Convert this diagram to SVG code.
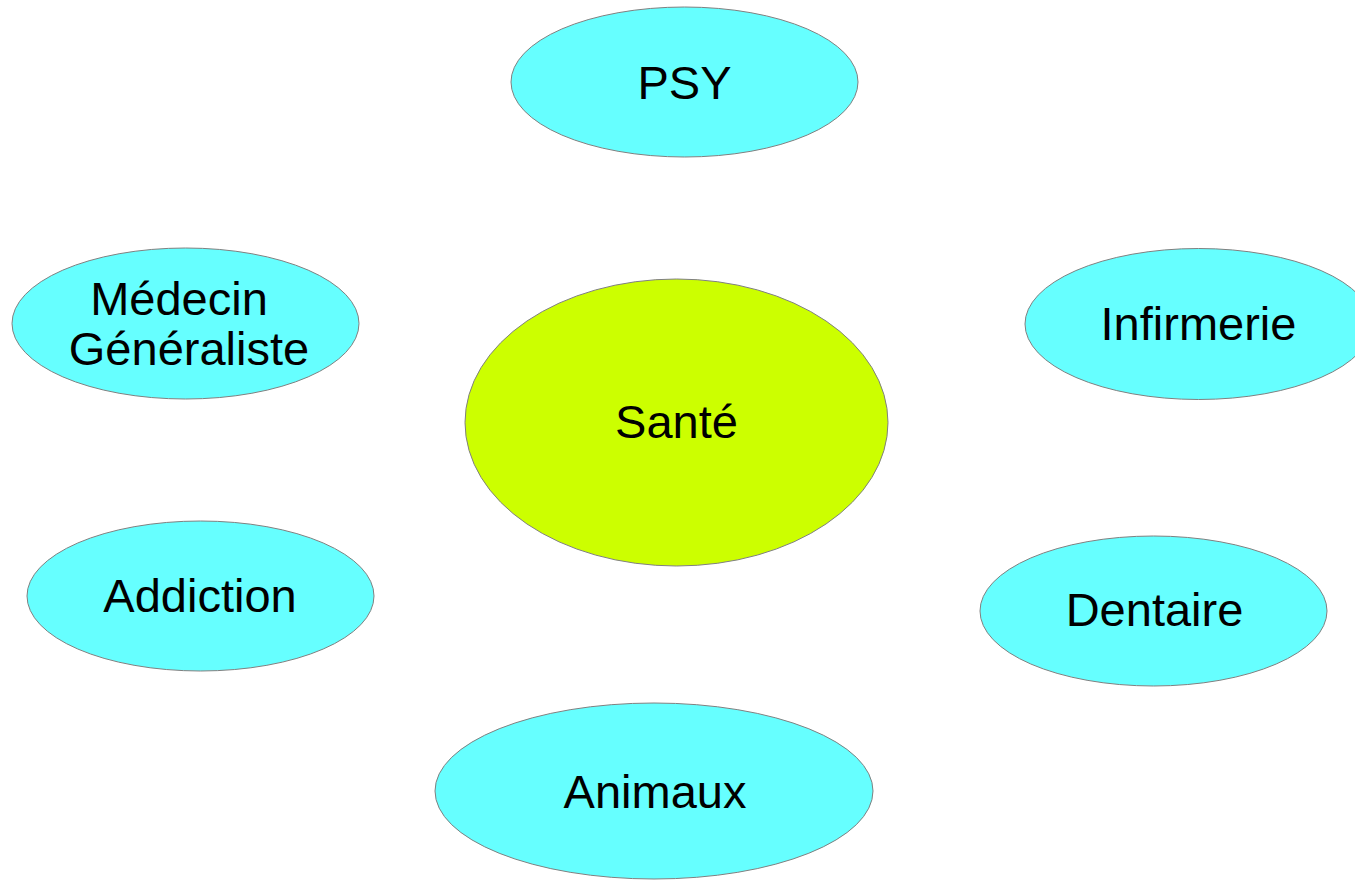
<svg xmlns="http://www.w3.org/2000/svg" width="1355" height="880" viewBox="0 0 1355 880">
<style>
.n{fill:#66ffff;stroke:#808080;stroke-width:1}
.c{fill:#ccff00;stroke:#808080;stroke-width:1}
text{font-family:"Liberation Sans",Arial,sans-serif;font-size:47px;fill:#000;text-anchor:middle}
</style>
<rect width="1355" height="880" fill="#ffffff"/>
<g id="connectors"></g>
<g id="psy"><ellipse class="n" cx="684.5" cy="82" rx="173.5" ry="75"/><text x="684.5" y="99">PSY</text></g>
<g id="medecin"><ellipse class="n" cx="185.5" cy="323.5" rx="173.5" ry="75.5"/><text x="179" y="315">Médecin</text><text x="189" y="365">Généraliste</text></g>
<g id="infirmerie"><ellipse class="n" cx="1198.5" cy="324" rx="173.5" ry="75.5"/><text x="1198.5" y="340">Infirmerie</text></g>
<g id="sante"><ellipse class="c" cx="676.5" cy="422.5" rx="211.5" ry="143.5"/><text x="676.5" y="438">Santé</text></g>
<g id="addiction"><ellipse class="n" cx="200.5" cy="596" rx="173.5" ry="75"/><text x="200" y="612">Addiction</text></g>
<g id="dentaire"><ellipse class="n" cx="1153.5" cy="611" rx="173.5" ry="75"/><text x="1154.5" y="626">Dentaire</text></g>
<g id="animaux"><ellipse class="n" cx="654" cy="791" rx="219" ry="88"/><text x="655" y="808">Animaux</text></g>
</svg>
